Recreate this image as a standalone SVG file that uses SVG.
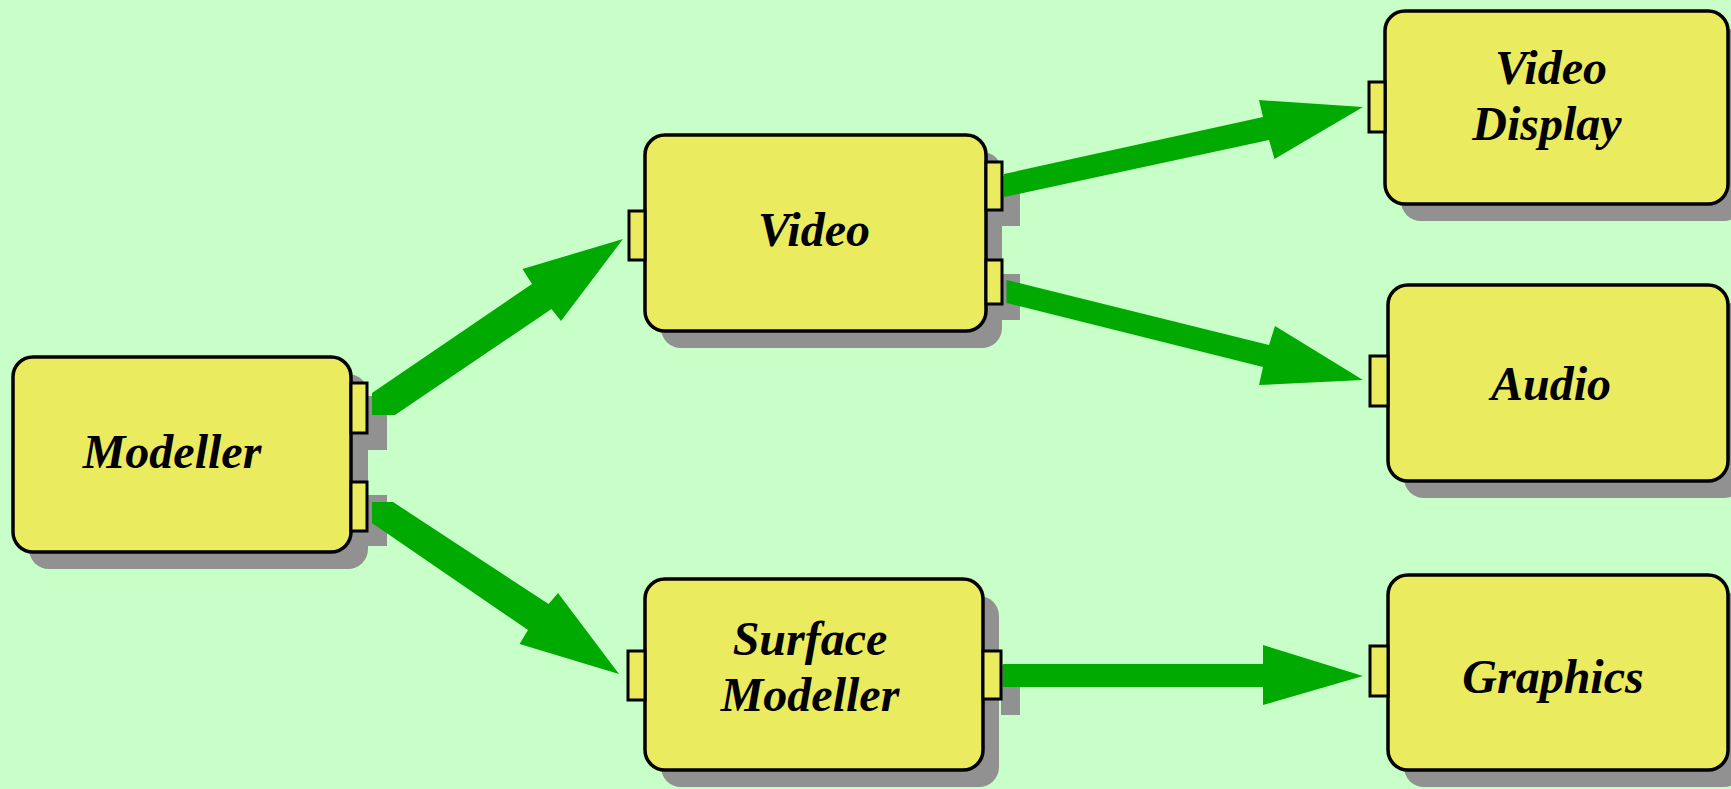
<svg xmlns="http://www.w3.org/2000/svg" width="1731" height="789" viewBox="0 0 1731 789">
  <style>
    .box { fill: #EAEB5F; stroke: #000; stroke-width: 3.5; }
    .port { fill: #EAEB5F; stroke: #000; stroke-width: 3; }
    .shadow { fill: #919191; }
    .label { font-family: "Liberation Serif", "Times New Roman", serif; font-size: 48px; font-weight: bold; font-style: italic; fill: #000; text-anchor: middle; }
    .arrow { fill: #00AA00; }
  </style>

  <rect width="1731" height="789" fill="#C8FFC8"/>

  <!-- Modeller -->
  <g id="modeller">
    <rect class="shadow" x="29" y="374" width="339" height="195" rx="20"/>
    <rect class="shadow" x="368" y="396" width="19" height="54"/>
    <rect class="shadow" x="368" y="495" width="19" height="51"/>
    <rect class="box" x="13" y="357" width="338" height="195" rx="20"/>
    <rect class="port" x="351" y="383" width="16" height="50"/>
    <rect class="port" x="351" y="482" width="16" height="49"/>
    <text class="label" x="172" y="468">Modeller</text>
  </g>

  <!-- Video -->
  <g id="video">
    <rect class="shadow" x="661" y="152" width="341" height="196" rx="20"/>
    <rect class="shadow" x="1002" y="176" width="18" height="50"/>
    <rect class="shadow" x="1002" y="274" width="18" height="46"/>
    <rect class="box" x="645" y="135" width="341" height="196" rx="20"/>
    <rect class="port" x="629" y="211" width="16" height="49"/>
    <rect class="port" x="986" y="162" width="16" height="48"/>
    <rect class="port" x="986" y="260" width="16" height="44"/>
    <text class="label" x="814" y="246">Video</text>
  </g>

  <!-- Surface Modeller -->
  <g id="surface-modeller">
    <rect class="shadow" x="661" y="596" width="338" height="191" rx="20"/>
    <rect class="shadow" x="1001" y="665" width="19" height="50"/>
    <rect class="box" x="645" y="579" width="338" height="191" rx="20"/>
    <rect class="port" x="628" y="651" width="17" height="49"/>
    <rect class="port" x="983" y="651" width="18" height="48"/>
    <text class="label" x="810" y="655">Surface</text>
    <text class="label" x="810" y="711">Modeller</text>
  </g>

  <!-- Video Display -->
  <g id="video-display">
    <rect class="shadow" x="1401" y="28" width="343" height="193" rx="20"/>
    <rect class="box" x="1385" y="11" width="343" height="193" rx="20"/>
    <rect class="port" x="1369" y="82" width="16" height="50"/>
    <text class="label" x="1551" y="84">Video</text>
    <text class="label" x="1547" y="140">Display</text>
  </g>

  <!-- Audio -->
  <g id="audio">
    <rect class="shadow" x="1404" y="302" width="340" height="196" rx="20"/>
    <rect class="box" x="1388" y="285" width="340" height="196" rx="20"/>
    <rect class="port" x="1370" y="356" width="18" height="50"/>
    <text class="label" x="1551" y="400">Audio</text>
  </g>

  <!-- Graphics -->
  <g id="graphics">
    <rect class="shadow" x="1404" y="592" width="340" height="195" rx="20"/>
    <rect class="box" x="1388" y="575" width="340" height="195" rx="20"/>
    <rect class="port" x="1370" y="646" width="18" height="50"/>
    <text class="label" x="1553" y="693">Graphics</text>
  </g>

  <!-- Connectors: block arrows drawn as filled outlines -->
  <g id="connectors">
    <polygon class="arrow" points="372,393 532,284 522.5,269 623,239 561,321 551.5,309 395,415 372,415"/>
    <polygon class="arrow" points="372,502 393,502 548.6,604 558,593 619,674 519.6,644 528,630 372,523"/>
    <polygon class="arrow" points="1004,174 1263,117 1259,100 1363,107 1274.5,159 1269,140 1004,197"/>
    <polygon class="arrow" points="1006.5,280 1269,345 1275,326 1363,380 1259,385 1263,367 1006.5,303"/>
    <polygon class="arrow" points="1003,664 1263,664 1263,645 1363,676 1263,705 1263,687 1003,687"/>
  </g>
</svg>
